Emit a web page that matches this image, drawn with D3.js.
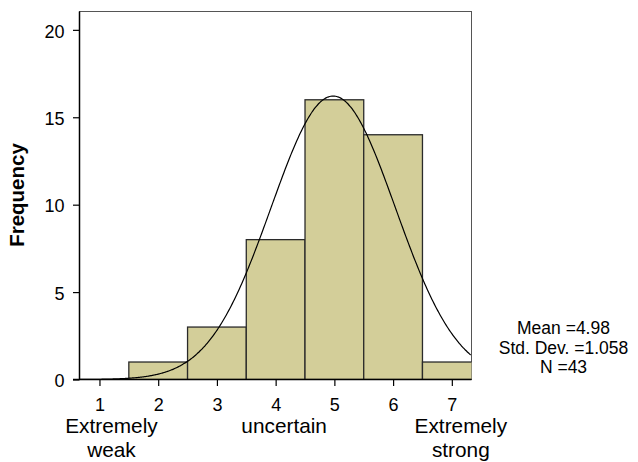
<!DOCTYPE html>
<html>
<head>
<meta charset="utf-8">
<script src="https://cdn.jsdelivr.net/npm/d3@7"></script>
<style>
  body { margin: 0; background: #fff; }
  svg { display: block; }
  text { font-family: "Liberation Sans", Arial, sans-serif; fill: #000; }
</style>
</head>
<body>
<script>
// Histogram bins (centre of each unit-wide bin) and counts
const binCenters = [1, 2, 3, 4, 5, 6, 7];
const frequencies = [0, 1, 3, 8, 16, 14, 1];

// Summary statistics shown beside the chart; the normal curve uses them
const statMean = 4.98;
const statSD = 1.058;
const statN = 43;
const statLines = ["Mean =4.98", "Std. Dev. =1.058", "N =43"];

// Axis ticks and captions
const yTicks = [0, 5, 10, 15, 20];
const xTicks = [1, 2, 3, 4, 5, 6, 7];
const captionAnchors = [1, 4, 7];
const captionLines = [["Extremely", "weak"], ["uncertain"], ["Extremely", "strong"]];
const yTitle = "Frequency";

const W = 638, H = 462;
const plot = { left: 79.5, right: 471.5, top: 11.5, bottom: 379.5 };

const svg = d3.select("body").append("svg").attr("width", W).attr("height", H);

const x = d3.scaleLinear().domain([0.66, 7.335]).range([plot.left, plot.right]);
const y = d3.scaleLinear().domain([0, 21.05]).range([plot.bottom, plot.top]);

svg.append("clipPath").attr("id", "plotClip")
  .append("rect")
  .attr("x", plot.left).attr("y", plot.top)
  .attr("width", plot.right - plot.left).attr("height", plot.bottom - plot.top);

// Plot frame
svg.append("rect")
  .attr("x", plot.left).attr("y", plot.top)
  .attr("width", plot.right - plot.left).attr("height", plot.bottom - plot.top)
  .attr("fill", "#fff").attr("stroke", "#555").attr("stroke-width", 1);

const inner = svg.append("g").attr("clip-path", "url(#plotClip)");

// Bars
const bins = binCenters.map((c, i) => ({ c, f: frequencies[i] })).filter(d => d.f > 0);
inner.selectAll("rect.bar").data(bins).join("rect")
  .attr("class", "bar")
  .attr("x", d => x(d.c - 0.5))
  .attr("width", d => x(d.c + 0.5) - x(d.c - 0.5))
  .attr("y", d => y(d.f))
  .attr("height", d => y(0) - y(d.f))
  .attr("fill", "#D3CE99")
  .attr("stroke", "#2a2a2a")
  .attr("stroke-width", 1.3);

// Normal curve scaled to counts (bin width 1)
const density = v => statN * Math.exp(-0.5 * ((v - statMean) / statSD) ** 2) / (statSD * Math.sqrt(2 * Math.PI));
const xs = d3.range(0.66, 7.34, 0.02);
inner.append("path")
  .datum(xs)
  .attr("d", d3.line().x(v => x(v)).y(v => y(density(v))).curve(d3.curveBasis))
  .attr("fill", "none").attr("stroke", "#000").attr("stroke-width", 1.2);

// Y axis
const yAxis = svg.append("g").attr("transform", `translate(${plot.left},0)`)
  .call(d3.axisLeft(y).tickValues(yTicks).tickFormat(d3.format("d")).tickSize(6.5).tickPadding(8.5).tickSizeOuter(0));
yAxis.select(".domain").remove();
yAxis.selectAll(".tick line").attr("stroke", "#000").attr("stroke-width", 1.2);
yAxis.selectAll(".tick text")
  .attr("font-size", 18).attr("font-family", null).attr("dy", "0.4em");

// X axis
const xAxis = svg.append("g").attr("transform", `translate(0,${plot.bottom})`)
  .call(d3.axisBottom(x).tickValues(xTicks).tickFormat(d3.format("d")).tickSize(6.5).tickPadding(12).tickSizeOuter(0));
xAxis.select(".domain").remove();
xAxis.selectAll(".tick line").attr("stroke", "#000").attr("stroke-width", 1.2);
xAxis.selectAll(".tick text").attr("font-size", 18).attr("font-family", null);

// Axis lines
svg.append("line")
  .attr("x1", plot.left).attr("x2", plot.left)
  .attr("y1", plot.top).attr("y2", plot.bottom)
  .attr("stroke", "#000").attr("stroke-width", 1.5);
svg.append("line")
  .attr("x1", plot.left - 6.5).attr("x2", plot.right)
  .attr("y1", plot.bottom).attr("y2", plot.bottom)
  .attr("stroke", "#000").attr("stroke-width", 1.5);

// Category captions below the tick labels
const captionOffset = [12, 8.5, 9];
captionAnchors.forEach((a, i) => {
  const t = svg.append("text")
    .attr("text-anchor", "middle")
    .attr("font-size", 20.8)
    .attr("x", x(a) + captionOffset[i])
    .attr("y", 433);
  captionLines[i].forEach((line, j) => {
    t.append("tspan")
      .attr("x", x(a) + captionOffset[i])
      .attr("dy", j === 0 ? 0 : 24)
      .text(line);
  });
});

// Y title
svg.append("text")
  .attr("transform", "translate(24,195) rotate(-90)")
  .attr("text-anchor", "middle")
  .attr("font-size", 20.5)
  .attr("font-weight", "bold")
  .text(yTitle);

// Statistics block
svg.append("g").selectAll("text").data(statLines).join("text")
  .attr("text-anchor", "middle")
  .attr("font-size", 17.5)
  .attr("x", 563.5)
  .attr("y", (d, i) => 334 + i * 19.6)
  .text(d => d);
</script>
</body>
</html>
